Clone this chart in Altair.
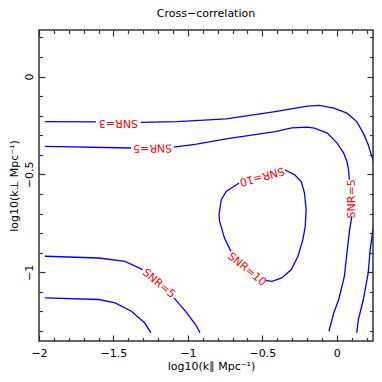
import altair as alt
import pandas as pd

# ---------------- values ----------------
# contour lines (x = log10 k_par, y = log10 k_perp), split where a label sits on them
# SNR = 3, top contour continuing down the right edge
c3a_x = [-1.961, -1.618]
c3a_y = [-0.230, -0.231]
c3b_x = [-1.316, -1.072, -0.743, -0.414, -0.197, -0.118, -0.020, 0.068, 0.134, 0.178,
         0.211, 0.232, 0.243, 0.257, 0.263, 0.257, 0.243, 0.224, 0.211, 0.178, 0.145, 0.134]
c3b_y = [-0.234, -0.230, -0.216, -0.179, -0.151, -0.147, -0.161, -0.187, -0.230, -0.289,
         -0.348, -0.400, -0.425, -0.502, -0.604, -0.706, -0.782, -0.884, -1.002, -1.139, -1.241, -1.309]
# SNR = 5, top contour bending down on the right
c5a_x = [-1.961, -1.382]
c5a_y = [-0.357, -0.365]
c5b_x = [-1.094, -0.941, -0.743, -0.414, -0.303, -0.197, -0.151, -0.064, 0.002, 0.046, 0.068, 0.079, 0.084]
c5b_y = [-0.360, -0.345, -0.318, -0.281, -0.262, -0.258, -0.263, -0.289, -0.340, -0.391, -0.434, -0.476, -0.527]
c5c_x = [0.101, 0.086, 0.068, 0.051, 0.013, -0.020, -0.053]
c5c_y = [-0.714, -0.782, -0.901, -1.020, -1.139, -1.207, -1.301]
# SNR = 10, closed loop
c10a_x = [-0.349, -0.283, -0.239, -0.217, -0.206, -0.212, -0.228, -0.261, -0.305, -0.370, -0.436, -0.480]
c10a_y = [-0.476, -0.502, -0.536, -0.595, -0.680, -0.765, -0.833, -0.918, -0.986, -1.029, -1.046, -1.041]
c10b_x = [-0.711, -0.755, -0.787, -0.791, -0.776, -0.743, -0.656]
c10b_y = [-0.893, -0.824, -0.740, -0.706, -0.629, -0.587, -0.544]
# SNR = 5, lower left
l5a_x = [-1.961, -1.599, -1.423, -1.303]
l5a_y = [-0.918, -0.927, -0.944, -0.986]
l5b_x = [-1.094, -1.007, -0.941, -0.919]
l5b_y = [-1.131, -1.207, -1.276, -1.309]
# SNR = 3, lower left
l3_x = [-1.961, -1.599, -1.489, -1.380, -1.291, -1.248]
l3_y = [-1.131, -1.139, -1.156, -1.199, -1.258, -1.309]

# contour labels
label_text = ["SNR=3", "SNR=5", "SNR=10", "SNR=5", "SNR=5", "SNR=10"]
label_x = [-1.467, -1.237, -0.503, 0.099, -1.197, -0.605]
label_y = [-0.238, -0.364, -0.509, -0.625, -1.058, -0.986]
label_angle = [180, 179, 164.5, 270, 40, 39]

# axes
x_major = [-2, -1.5, -1, -0.5, 0]
x_minor = [-2.0, -1.9, -1.8, -1.7, -1.6, -1.5, -1.4, -1.3, -1.2, -1.1, -1.0, -0.9, -0.8,
           -0.7, -0.6, -0.5, -0.4, -0.3, -0.2, -0.1, 0.0, 0.1, 0.2]
y_major = [-1, -0.5, 0]
y_minor = [-1.3, -1.2, -1.1, -1.0, -0.9, -0.8, -0.7, -0.6, -0.5, -0.4, -0.3, -0.2, -0.1, 0.0, 0.1, 0.2]
x_domain = [-2.0, 0.243]
y_domain = [-1.351, 0.238]
title_text = "Cross\u2212correlation"
x_title = "log10(k\u2225 Mpc\u207b\u00b9)"
y_title = "log10(k\u22a5 Mpc\u207b\u00b9)"

# ---------------- tables ----------------
segments = [
    ("c3a", c3a_x, c3a_y), ("c3b", c3b_x, c3b_y),
    ("c5a", c5a_x, c5a_y), ("c5b", c5b_x, c5b_y), ("c5c", c5c_x, c5c_y),
    ("c10a", c10a_x, c10a_y), ("c10b", c10b_x, c10b_y),
    ("l5a", l5a_x, l5a_y), ("l5b", l5b_x, l5b_y),
    ("l3", l3_x, l3_y),
]
rows = []
for name, xs_, ys_ in segments:
    for i, (a, b) in enumerate(zip(xs_, ys_)):
        rows.append({"seg": name, "i": i, "x": a, "y": b})
seg_df = pd.DataFrame(rows)
lab_df = pd.DataFrame({"text": label_text, "x": label_x, "y": label_y, "angle": label_angle})

W, H = 334, 311
FONT = "DejaVu Sans"
INK = "#333333"
xs = alt.Scale(domain=x_domain, nice=False, zero=False)
ys = alt.Scale(domain=y_domain, nice=False, zero=False)

major_test = "abs(datum.value * 2 - round(datum.value * 2)) < 0.001"
tick_size = {"condition": {"test": major_test, "value": 6}, "value": 3.5}


def tick_axis(orient, offset, values):
    return alt.Axis(orient=orient, offset=offset, values=values, labels=False, domain=False,
                    grid=False, title=None, ticks=True, tickSize=tick_size,
                    tickColor=INK, tickWidth=1.2)


lines = alt.Chart(seg_df).mark_line(color="#0000ff", strokeWidth=1.3, clip=True).encode(
    x=alt.X("x:Q", scale=xs, axis=alt.Axis(
        orient="bottom", values=x_major, format="~g", ticks=False, tickSize=0, domain=False,
        grid=False, labelFlush=False, labelOverlap=False, labelFont=FONT, labelFontSize=11,
        labelColor="black", labelPadding=6, labelBaseline="top",
        title=x_title, titleFont=FONT, titleFontSize=11, titleFontWeight="normal",
        titleColor="black", titleX=172, titleY=28, titleBaseline="alphabetic",
        titleAlign="center", titleAngle=0)),
    y=alt.Y("y:Q", scale=ys, axis=alt.Axis(
        orient="left", values=y_major, format="~g", ticks=False, tickSize=0, domain=False,
        grid=False, labelFlush=False, labelOverlap=False, labelFont=FONT, labelFontSize=11,
        labelColor="black", labelAngle=270, labelAlign="center", labelBaseline="alphabetic",
        labelPadding=7,
        title=y_title, titleFont=FONT, titleFontSize=11, titleFontWeight="normal",
        titleColor="black", titleX=-22, titleY=155.5, titleAngle=270,
        titleBaseline="alphabetic", titleAlign="center")),
    detail="seg:N",
    order="i:Q",
)

labels = alt.Chart(lab_df).mark_text(color="#ff0000", font=FONT, fontSize=11,
                                     align="center", baseline="middle").encode(
    x=alt.X("x:Q", scale=xs, axis=None),
    y=alt.Y("y:Q", scale=ys, axis=None),
    text="text:N",
    angle=alt.Angle("angle:Q", scale=None),
)

ticks_a = alt.Chart(lab_df).mark_point(opacity=0).encode(
    x=alt.X("x:Q", scale=xs, axis=tick_axis("top", -H, x_minor)),
    y=alt.Y("y:Q", scale=ys, axis=tick_axis("right", -W, y_minor)),
)
ticks_b = alt.Chart(lab_df).mark_point(opacity=0).encode(
    x=alt.X("x:Q", scale=xs, axis=tick_axis("bottom", -H, x_minor)),
    y=alt.Y("y:Q", scale=ys, axis=tick_axis("left", -W, y_minor)),
)

chart = alt.layer(lines, labels, ticks_a, ticks_b).resolve_axis(
    x="independent", y="independent"
).properties(
    width=W, height=H,
    autosize=alt.AutoSizeParams(type="none"),
    padding={"left": 31, "top": 22, "right": 1, "bottom": 31},
    title=alt.TitleParams(title_text, font=FONT, fontSize=11, fontWeight="normal",
                          anchor="middle", baseline="alphabetic", frame="group",
                          offset=13, dy=12, color="black"),
    background="white",
).configure_view(stroke=INK, strokeWidth=1.5)

chart.save("out.html", embed_options={"renderer": "svg", "actions": False})
